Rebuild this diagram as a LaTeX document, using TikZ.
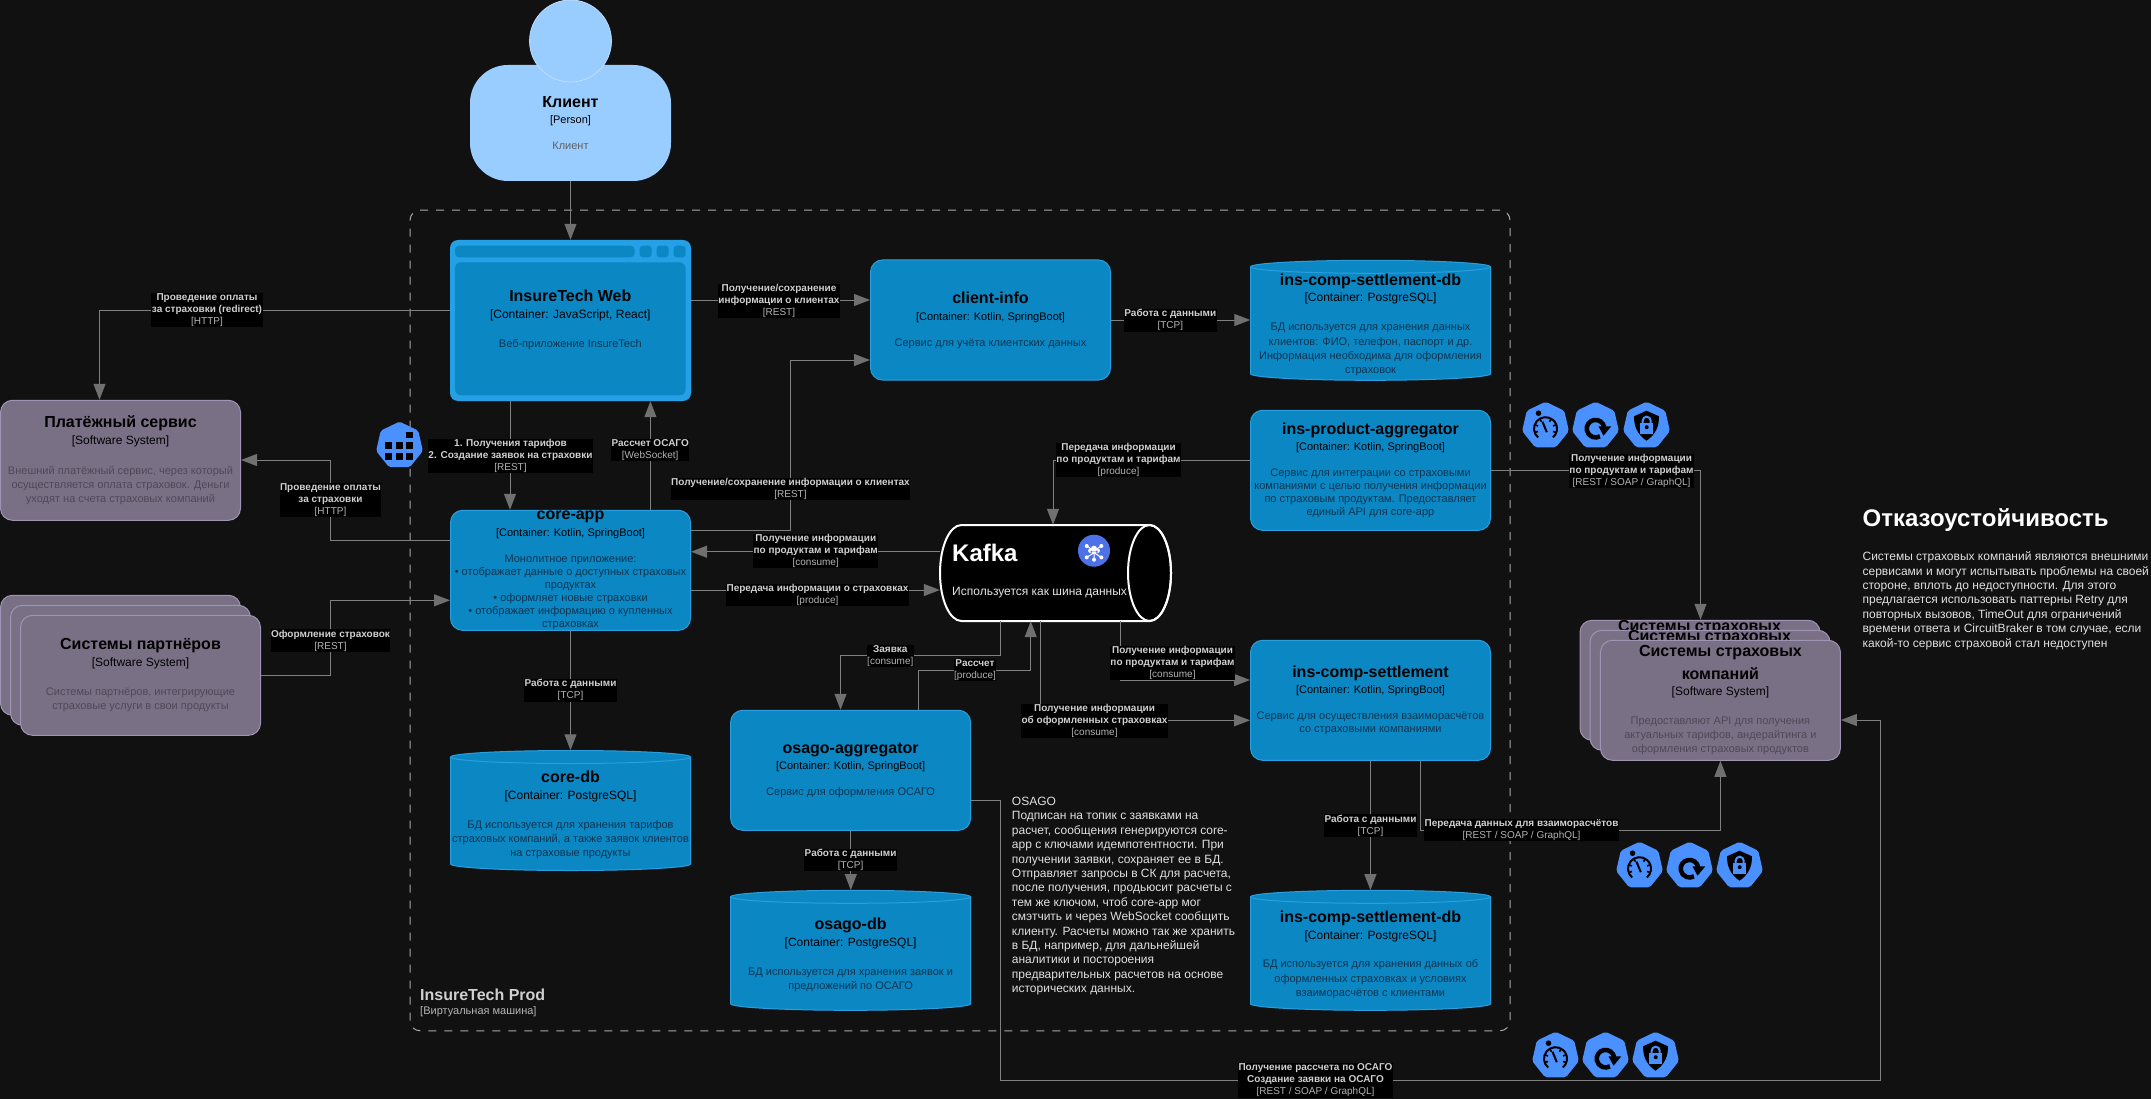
\documentclass[tikz,border=0pt]{standalone}
\usepackage{fontspec}
\setmainfont{Liberation Sans}
\usetikzlibrary{arrows.meta}
\definecolor{bgc}{HTML}{111111}
\definecolor{svcfill}{HTML}{0B87C4}
\definecolor{svcline}{HTML}{2A9FE0}
\definecolor{webfill}{HTML}{23A0E6}
\definecolor{extfill}{HTML}{7A7085}
\definecolor{extline}{HTML}{A094B4}
\definecolor{personfill}{HTML}{99CCFF}
\definecolor{personline}{HTML}{C4E0FF}
\definecolor{linec}{HTML}{808080}
\definecolor{tipc}{HTML}{707070}
\definecolor{dashc}{HTML}{A8A8A8}
\definecolor{iconc}{HTML}{4A90FF}
\definecolor{kafkaic}{HTML}{4D72E8}
\definecolor{svcdesc}{HTML}{0D3550}
\definecolor{extdesc}{HTML}{4E4858}
\definecolor{labt}{HTML}{D0D0D0}
\definecolor{labs}{HTML}{B4B4B4}
\newcommand\ttl{\fontsize{16}{18}\selectfont\bfseries\color{black}}
\newcommand\tchA{\fontsize{11}{18}\selectfont\color{black}}
\newcommand\tchB{\fontsize{12}{18}\selectfont\color{black}}
\newcommand\lt{\bfseries\color{labt}}
\newcommand\ls{\color{labs}}
\tikzset{
  conn/.style={draw=linec,line width=1pt},
  arr/.style={conn,-{Triangle[length=16pt,width=12pt,color=tipc]}},
  boxbase/.style={align=center,inner xsep=0pt,inner ysep=-8pt,minimum width=240pt,minimum height=120pt,rounded corners=12pt,font=\fontsize{11}{13}\selectfont,text=svcdesc},
  svc/.style={boxbase,fill=svcfill,draw=svcline,line width=1pt},
  ext/.style={boxbase,fill=extfill,draw=extline,line width=1pt,font=\fontsize{11}{14}\selectfont,text=extdesc},
  shell/.style={inner sep=0pt,minimum width=240pt,minimum height=120pt},
  dbtext/.style={align=center,inner sep=0pt,font=\fontsize{11}{14.4}\selectfont,text=svcdesc},
  lab/.style={fill=black,align=center,inner xsep=0.5pt,inner ysep=0.5pt,font=\fontsize{10}{12}\selectfont},
  cluster/.style={draw=dashc,line width=1pt,dash pattern=on 8pt off 8pt,rounded corners=10pt,minimum width=1100pt,minimum height=820.5pt,inner sep=0pt},
  note/.style={align=left,inner sep=0pt,anchor=north west,text=white!88!black,font=\fontsize{12}{14.4}\selectfont}
}
\newcommand\dbcyl[4]{%
  \begin{scope}[shift={(#2,#3)}]
    \draw[fill=svcfill,draw=svcline,line width=1pt] (-120,-53.5) .. controls (-120,-57.1) and (-66.3,-60) .. (0,-60) .. controls (66.3,-60) and (120,-57.1) .. (120,-53.5) -- (120,53.5) .. controls (120,57.1) and (66.3,60) .. (0,60) .. controls (-66.3,60) and (-120,57.1) .. (-120,53.5) -- cycle;
    \draw[draw=svcline,line width=1pt] (-120,-53.5) .. controls (-120,-49.9) and (-66.3,-47) .. (0,-47) .. controls (66.3,-47) and (120,-49.9) .. (120,-53.5);
  \end{scope}
  \node[shell] (#1) at (#2,#3) {};
  \node[dbtext] (#1text) at (#2,#3+4.6) {#4};
}
\newcommand\hepta{\fill[iconc,rounded corners=2pt] (0,24) -- (18.76,14.96) -- (23.4,-5.34) -- (10.41,-21.62) -- (-10.41,-21.62) -- (-23.4,-5.34) -- (-18.76,14.96) -- cycle;}
\newcommand\ictimer[2]{\begin{scope}[shift={(#1,#2)},x=1pt,y=1pt]\hepta
  \draw[black,line width=2pt] (-7.4,-11.8) arc[start angle=230,end angle=-50,radius=11.5];
  \foreach \a in {200,160,120,60,20,-20}{\draw[black,line width=1.6pt] (0,-3)++(\a:11.5) -- ++(\a+180:3.5);}
  \fill[black] (-7,12.5) circle (2.8);
  \draw[black,line width=2pt] (-3,4) -- (1.3,-6.5);
\end{scope}}
\newcommand\icretry[2]{\begin{scope}[shift={(#1,#2)},x=1pt,y=1pt]\hepta
  \draw[black,line width=4.5pt] (0,-3)++(10:8.8) arc[start angle=10,end angle=300,radius=8.8];
  \fill[black] (3,-0.7) -- (15.7,-0.7) -- (8,-10) -- cycle;
\end{scope}}
\newcommand\iclock[2]{\begin{scope}[shift={(#1,#2)},x=1pt,y=1pt]\hepta
  \fill[black] (0,15) -- (12.3,9.5) .. controls (13,0) and (9,-9) .. (0,-15) .. controls (-9,-9) and (-13,0) .. (-12.3,9.5) -- cycle;
  \fill[iconc] (-6.3,-8.3) rectangle (6.7,2.7);
  \draw[iconc,line width=2pt] (-3.8,2.7) -- (-3.8,5) arc[start angle=180,end angle=0,radius=4] -- (4.2,2.7);
  \fill[black] (0.2,-1.5) circle (2);
\end{scope}}
\newcommand\icgrid[2]{\begin{scope}[shift={(#1,#2)},x=1pt,y=1pt]\hepta
  \foreach \p/\q in {-11.3/-10.7,-0.3/-10.7,10/-10.7,-11.3/0,-0.3/0,10/0,10/10.7}{\fill[black] (\p-3.4,\q-3.4) rectangle (\p+3.4,\q+3.4);}
\end{scope}}
\begin{document}
\begin{tikzpicture}[x=1pt,y=-1pt]
\useasboundingbox (0,0) rectangle (2151,1099);
\fill[bgc] (0,0) rectangle (2151,1099);

\node[cluster] (vm) at (960,620.5) {};
\node[anchor=west,inner sep=0pt,font=\fontsize{16}{18}\selectfont\bfseries,text=labt] (vmname) at (420,995) {InsureTech Prod};
\node[anchor=west,inner sep=0pt,font=\fontsize{11}{13}\selectfont,text=labs] (vmkind) at (420,1012) {[Виртуальная машина]};

% person
\node[boxbase,rounded corners=38pt,fill=personfill,text=black!62,minimum width=201pt,minimum height=116pt] (client) at (570.5,123) {\ttl Клиент\\[3.7pt]\tchA [Person]\\[13pt]Клиент};
\draw[fill=personfill,draw=personline,line width=0.7pt] (570.5,41) circle (41);

% web
\node[boxbase,fill=webfill,rounded corners=8pt,minimum height=161pt,minimum width=241pt] (web) at (570.5,320.5) {};
\fill[svcfill,rounded corners=4pt] (455,245.7) rectangle (634.6,257.3);
\fill[svcfill,rounded corners=3pt] (639.7,245.7) rectangle (651.6,257.3);
\fill[svcfill,rounded corners=3pt] (656.6,245.7) rectangle (668.6,257.3);
\fill[svcfill,rounded corners=3pt] (673.6,245.7) rectangle (685.6,257.3);
\node[boxbase,fill=svcfill,rounded corners=6pt,minimum width=230.6pt,minimum height=133pt] (webin) at (570.3,328.8) {};
\node[dbtext,font=\fontsize{11}{13}\selectfont] (webtext) at (570.3,320) {\ttl InsureTech Web\\[4pt]\tchB [Container: JavaScript, React]\\[16pt]Веб-приложение InsureTech};

\node[svc] (info) at (990.5,320) {\ttl client-info\\[3.7pt]\tchA [Container: Kotlin, SpringBoot]\\[13pt]Сервис для учёта клиентских данных};
\dbcyl{infodb}{1370.5}{320.3}{\ttl ins-comp-settlement-db\\[2.3pt]\tchB [Container: PostgreSQL]\\[14.3pt]БД используется для хранения данных\\клиентов: ФИО, телефон, паспорт и др.\\Информация необходима для оформления\\страховок}
\node[svc] (product) at (1370.5,470.3) {\ttl ins-product-aggregator\\[3.7pt]\tchA [Container: Kotlin, SpringBoot]\\[13pt]Сервис для интеграции со страховыми\\компаниями с целью получения информации\\по страховым продуктам. Предоставляет\\единый API для core-app};
\node[svc] (core) at (570.5,570.3) {\ttl core-app\\[3.7pt]\tchA [Container: Kotlin, SpringBoot]\\[13pt]Монолитное приложение:\\• отображает данные о доступных страховых\\продуктах\\• оформляет новые страховки\\• отображает информацию о купленных\\страховках};
\dbcyl{coredb}{570.5}{810.5}{\ttl core-db\\[2.3pt]\tchB [Container: PostgreSQL]\\[14.3pt]БД используется для хранения тарифов\\страховых компаний, а также заявок клиентов\\на страховые продукты}
\node[svc] (osago) at (850.6,770.3) {\ttl osago-aggregator\\[3.7pt]\tchA [Container: Kotlin, SpringBoot]\\[13pt]Сервис для оформления ОСАГО};
\dbcyl{osagodb}{850.6}{950.3}{\ttl osago-db\\[2.3pt]\tchB [Container: PostgreSQL]\\[14.3pt]БД используется для хранения заявок и\\предложений по ОСАГО}
\node[svc] (settle) at (1370.5,700.3) {\ttl ins-comp-settlement\\[3.7pt]\tchA [Container: Kotlin, SpringBoot]\\[13pt]Сервис для осуществления взаиморасчётов\\со страховыми компаниями};
\dbcyl{settledb}{1370.5}{950.3}{\ttl ins-comp-settlement-db\\[2.3pt]\tchB [Container: PostgreSQL]\\[14.3pt]БД используется для хранения данных об\\оформленных страховках и условиях\\взаиморасчётов с клиентами}

% external systems
\node[ext] (pay) at (120.5,460.3) {\ttl Платёжный сервис\\[3pt]\tchB [Software System]\\[15.3pt]Внешний платёжный сервис, через который\\осуществляется оплата страховок. Деньги\\уходят на счета страховых компаний};
\node[ext] (partA) at (120.5,655.3) {};
\node[ext] (partB) at (130.5,665.3) {};
\node[ext] (partners) at (140.5,675.3) {\ttl Системы партнёров\\[3pt]\tchB [Software System]\\[15.3pt]Системы партнёров, интегрирующие\\страховые услуги в свои продукты};
\node[ext] (insA) at (1700,680.3) {};
\node[anchor=base,inner sep=0pt] (insAt) at (1699.5,631.5) {\ttl Системы страховых};
\node[ext] (insB) at (1710,690.3) {};
\node[anchor=base,inner sep=0pt] (insBt) at (1709.5,641.5) {\ttl Системы страховых};
\node[ext] (ins) at (1720.4,700.3) {\ttl Системы страховых\\[6pt]\ttl компаний\\[2pt]\tchB [Software System]\\[15.3pt]Предоставляют API для получения\\актуальных тарифов, андерайтинга и\\оформления страховых продуктов};

% kafka
\draw[white,fill=black,line width=2pt] (961.5,525) .. controls (949.6,525) and (940,546.5) .. (940,573) .. controls (940,599.5) and (949.6,621) .. (961.5,621) -- (1149.5,621) .. controls (1161.4,621) and (1171,599.5) .. (1171,573) .. controls (1171,546.5) and (1161.4,525) .. (1149.5,525) -- cycle;
\draw[white,line width=2pt] (1149.5,573) ellipse [x radius=21.5,y radius=48];
\node[inner sep=0pt,minimum width=231pt,minimum height=96pt] (kafka) at (1055.5,573) {};
\node[anchor=west,inner sep=0pt,text=white,font=\fontsize{24}{26}\selectfont\bfseries] (kafkaname) at (952,553) {Kafka};
\node[anchor=west,inner sep=0pt,text=white!90!black,font=\fontsize{12}{14}\selectfont] (kafkadesc) at (952,592.7) {Используется как шина данных};
\fill[kafkaic] (1094,550.7) circle (16);
\begin{scope}[shift={(1094,550.7)},white]
  \draw[line width=1pt] (0,0) -- (-7.3,-4.7) (0,0) -- (7.3,-4.7) (0,2) -- (-7.3,6.7) (0,2) -- (7.3,6.7) (0,2) -- (0,9);
  \fill (-7.3,-4.7) circle (2) (7.3,-4.7) circle (2) (-7.3,6.7) circle (2) (7.3,6.7) circle (2) (0,9) circle (2);
  \fill (-3.5,0) circle (2.4) (3.5,0) circle (2.4) (0,-2) circle (3) (-3.5,0) rectangle (3.5,2.4);
\end{scope}

% connectors
\draw[arr] (client.south -| 570.5,0) -- (web.north -| 570.5,0);
\draw[arr] (web.east |- 0,300) -- (info.west |- 0,300);
\draw[arr] (info.east |- 0,320) -- (infodb.west |- 0,320);
\draw[arr] (web.west |- 0,310) -- (99.5,310) -- (pay.north -| 99.5,0);
\draw[arr] (web.south -| 510,0) -- (core.north -| 510,0);
\draw[arr] (core.north -| 650.4,0) -- (web.south -| 650.4,0);
\draw[arr] (core.east |- 0,530) -- (790.6,530) -- (790.6,360) -- (info.west |- 0,360);
\draw[arr] (core.west |- 0,540.3) -- (330,540.3) -- (330,460) -- (pay.east |- 0,460);
\draw[arr] (partners.east |- 0,675.3) -- (330,675.3) -- (330,600.3) -- (core.west |- 0,600.3);
\draw[arr] (core.south -| 570.5,0) -- (coredb.north -| 570.5,0);
\draw[arr] (kafka.west |- 0,551.7) -- (core.east |- 0,551.7);
\draw[arr] (core.east |- 0,590) -- (kafka.west |- 0,590);
\draw[arr] (product.west |- 0,460) -- (1053,460) -- (kafka.north -| 1053,0);
\draw[arr] (product.east |- 0,470) -- (1700.5,470) -- (insA.north -| 1700.5,0);
\draw[arr] (kafka.south -| 1000.6,0) -- (1000.6,655.3) -- (840.5,655.3) -- (osago.north -| 840.5,0);
\draw[arr] (osago.north -| 918.4,0) -- (918.4,670.3) -- (1030.7,670.3) -- (kafka.south -| 1030.7,0);
\draw[arr] (kafka.south -| 1120.4,0) -- (1120.4,680) -- (settle.west |- 0,680);
\draw[arr] (kafka.south -| 1040,0) -- (1040,720.3) -- (settle.west |- 0,720.3);
\draw[arr] (osago.south -| 850.8,0) -- (osagodb.north -| 850.8,0);
\draw[arr] (settle.south -| 1370.4,0) -- (settledb.north -| 1370.4,0);
\draw[arr] (settle.south -| 1420.4,0) -- (1420.4,830.3) -- (1720.4,830.3) -- (ins.south -| 1720.4,0);
\draw[arr] (osago.east |- 0,800) -- (1000,800) -- (1000,1080) -- (1880.7,1080) -- (1880.7,720) -- (ins.east |- 0,720);

% labels
\node[lab] (l01) at (779,301) {\lt Получение/сохранение\\\lt информации о клиентах\\\ls [REST]};
\node[lab] (l02) at (1170.3,320.3) {\lt Работа с данными\\\ls [TCP]};
\node[lab] (l03) at (207,310) {\lt Проведение оплаты\\\lt за страховки (redirect)\\\ls [HTTP]};
\node[lab] (l04) at (510.5,455.8) {\lt 1. Получения тарифов\\\lt 2. Создание заявок на страховки\\\ls [REST]};
\node[lab] (l05) at (650.2,450.3) {\lt Рассчет ОСАГО\\\ls [WebSocket]};
\node[lab] (l06) at (790.5,489) {\lt Получение/сохранение информации о клиентах\\\ls [REST]};
\node[lab] (l07) at (330.5,500.3) {\lt Проведение оплаты\\\lt за страховки\\\ls [HTTP]};
\node[lab] (l08) at (330.5,640.5) {\lt Оформление страховок\\\ls [REST]};
\node[lab] (l09) at (570.5,690.3) {\lt Работа с данными\\\ls [TCP]};
\node[lab] (l10) at (815.7,551.3) {\lt Получение информации\\\lt по продуктам и тарифам\\\ls [consume]};
\node[lab] (l11) at (817.5,595.3) {\lt Передача информации о страховках\\\ls [produce]};
\node[lab] (l12) at (1118.5,460) {\lt Передача информации\\\lt по продуктам и тарифам\\\ls [produce]};
\node[lab] (l13) at (1631.5,470.8) {\lt Получение информации\\\lt по продуктам и тарифам\\\ls [REST / SOAP / GraphQL]};
\node[lab] (l14) at (890.3,655.7) {\lt Заявка\\\ls [consume]};
\node[lab] (l15) at (975,670) {\lt Рассчет\\\ls [produce]};
\node[lab] (l16) at (1172.5,662.8) {\lt Получение информации\\\lt по продуктам и тарифам\\\ls [consume]};
\node[lab] (l17) at (1094.5,720.8) {\lt Получение информации\\\lt об оформленных страховках\\\ls [consume]};
\node[lab] (l18) at (850.6,860) {\lt Работа с данными\\\ls [TCP]};
\node[lab] (l19) at (1370.5,825.5) {\lt Работа с данными\\\ls [TCP]};
\node[lab] (l20) at (1521.5,830.3) {\lt Передача данных для взаиморасчётов\\\ls [REST / SOAP / GraphQL]};
\node[lab] (l21) at (1315.5,1080.5) {\lt Получение рассчета по ОСАГО\\\lt Создание заявки на ОСАГО\\\ls [REST / SOAP / GraphQL]};

% icons
\icgrid{399.5}{445.6}
\ictimer{1545.5}{425.7}\icretry{1595.5}{425.7}\iclock{1646.5}{425.7}
\ictimer{1639.5}{865.7}\icretry{1689.5}{865.7}\iclock{1739.5}{865.7}
\ictimer{1555.5}{1055.7}\icretry{1605.5}{1055.7}\iclock{1655.5}{1055.7}

% notes
\node[note] (osagonote) at (1011.7,797) {OSAGO\\Подписан на топик с заявками на\\расчет, сообщения генерируются core-\\app с ключами идемпотентности. При\\получении заявки, сохраняет ее в БД.\\Отправляет запросы в СК для расчета,\\после получения, продьюсит расчеты с\\тем же ключом, чтоб core-app мог\\смэтчить и через WebSocket сообщить\\клиенту. Расчеты можно так же хранить\\в БД, например, для дальнейшей\\аналитики и постороения\\предварительных расчетов на основе\\исторических данных.};
\node[anchor=west,inner sep=0pt,text=white,font=\fontsize{24}{26}\selectfont\bfseries] (failtitle) at (1862.4,520) {Отказоустойчивость};
\node[note] (failtext) at (1862.4,551.5) {Системы страховых компаний являются внешними\\сервисами и могут испытывать проблемы на своей\\стороне, вплоть до недоступности. Для этого\\предлагается использовать паттерны Retry для\\повторных вызовов, TimeOut для ограничений\\времени ответа и CircuitBraker в том случае, если\\какой-то сервис страховой стал недоступен};
\end{tikzpicture}
\end{document}
